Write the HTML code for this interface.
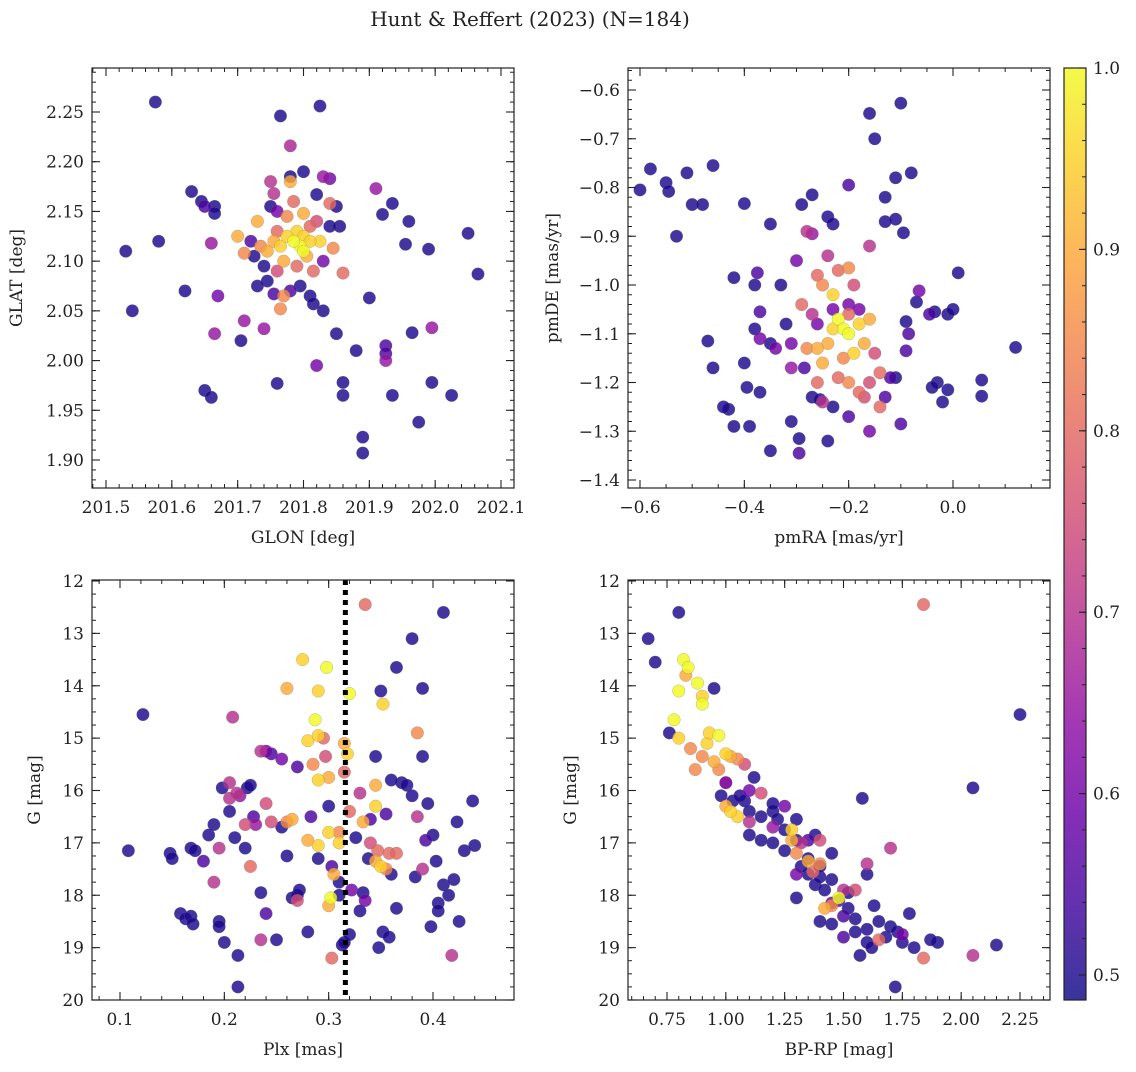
<!DOCTYPE html>
<html><head><meta charset="utf-8"><style>
body{margin:0;background:#fff}
svg text{font-family:"DejaVu Serif","Liberation Serif",serif;fill:#222}
</style></head><body>
<svg id="fig" width="1136" height="1067" viewBox="0 0 1136 1067" xmlns="http://www.w3.org/2000/svg">
<defs>
<linearGradient id="plasma" x1="0" y1="1" x2="0" y2="0">
<stop offset="0" stop-color="#0d0887"/><stop offset="0.1" stop-color="#41049d"/><stop offset="0.2" stop-color="#6a00a8"/><stop offset="0.3" stop-color="#8f0da4"/><stop offset="0.4" stop-color="#b12a90"/><stop offset="0.5" stop-color="#cc4778"/><stop offset="0.6" stop-color="#e16462"/><stop offset="0.7" stop-color="#f2844b"/><stop offset="0.8" stop-color="#fca636"/><stop offset="0.9" stop-color="#fcce25"/><stop offset="1" stop-color="#f0f921"/>
</linearGradient>
</defs>
<text x="530" y="26" font-size="20" text-anchor="middle">Hunt &amp; Reffert (2023) (N=184)</text>
<g id="plots"></g>
</svg>
<script>
// Panel 1: GLON/GLAT
const p1lon=[201.53,201.54,201.575,201.58,201.62,201.63,201.645,201.65,201.65,201.66,201.665,201.665,201.66,201.665,201.67,201.705,201.71,201.72,201.74,201.755,201.76,201.765,201.78,201.80,201.825,201.82,201.83,201.84,201.82,201.83,201.85,201.86,201.86,201.855,201.88,201.89,201.89,201.9,201.91,201.92,201.925,201.925,201.925,201.935,201.935,201.955,201.96,201.965,201.975,201.99,201.995,201.995,202.025,202.05,202.065,
201.7,201.71,201.73,201.735,201.74,201.745,201.75,201.755,201.75,201.76,201.765,201.77,201.775,201.78,201.78,201.785,201.79,201.795,201.8,201.805,201.8,201.81,201.815,201.82,201.825,201.83,201.77,201.765,201.78,201.79,201.76,201.745,201.8,201.785,201.845,201.86,201.85,201.84,201.73,201.76,201.725,201.81,201.795,201.815,201.84,201.755,201.775,201.81];
const p1lat=[2.11,2.05,2.26,2.12,2.07,2.17,2.16,2.155,1.97,1.963,2.155,2.148,2.118,2.027,2.065,2.02,2.04,2.12,2.032,2.067,1.977,2.246,2.216,2.19,2.256,2.167,2.185,2.183,1.995,2.05,2.027,1.978,1.965,2.135,2.01,1.923,1.907,2.063,2.173,2.147,2.015,2.007,2.0,2.158,1.965,2.117,2.14,2.028,1.938,2.112,2.033,1.978,1.965,2.128,2.087,
2.125,2.108,2.14,2.115,2.095,2.08,2.18,2.168,2.155,2.13,2.115,2.1,2.145,2.185,2.18,2.16,2.13,2.115,2.125,2.105,2.148,2.135,2.09,2.14,2.12,2.1,2.065,2.052,2.07,2.095,2.09,2.11,2.11,2.12,2.113,2.088,2.155,2.135,2.075,2.15,2.105,2.065,2.075,2.057,2.158,2.12,2.125,2.12];
const p1prob=[.5,.5,.5,.5,.5,.5,.5,.55,.5,.5,.5,.5,.65,.65,.6,.5,.65,.55,.65,.55,.5,.5,.68,.5,.5,.5,.65,.6,.6,.5,.5,.5,.5,.5,.5,.5,.5,.5,.65,.5,.55,.55,.65,.5,.5,.5,.5,.5,.5,.5,.65,.5,.5,.5,.5,
.9,.85,.9,.85,.5,.5,.7,.7,.5,.8,.95,.9,.85,.5,.9,.8,.95,1,.95,.9,.9,.8,.8,.75,.95,.6,.85,.85,.55,.8,.75,.9,1,1,.85,.8,.5,.5,.5,.6,.5,.5,.5,.5,.8,.9,.95,.95];
// Panel 2: pmRA/pmDE
const p2ra=[-0.6,-0.58,-0.55,-0.545,-0.53,-0.51,-0.5,-0.48,-0.46,-0.4,-0.35,-0.29,-0.27,-0.24,-0.23,-0.2,-0.16,-0.15,-0.13,-0.13,-0.1,-0.11,-0.08,-0.11,-0.095,0.01,0.12,0.055,0.055,-0.47,-0.46,-0.42,-0.42,-0.43,-0.44,-0.4,-0.395,-0.39,-0.375,-0.37,-0.35,-0.31,-0.295,-0.295,-0.285,-0.27,-0.255,-0.24,-0.23,-0.2,-0.16,-0.1,-0.09,-0.085,-0.09,-0.07,-0.065,-0.045,-0.035,-0.03,-0.04,-0.02,-0.01,0.0,-0.01,-0.12,-0.11,
-0.37,-0.38,-0.37,-0.35,-0.34,-0.32,-0.31,-0.38,-0.3,-0.33,-0.28,-0.27,-0.26,-0.25,-0.24,-0.22,-0.16,-0.2,-0.19,-0.2,-0.2,-0.23,-0.22,-0.21,-0.2,-0.18,-0.17,-0.23,-0.24,-0.26,-0.28,-0.25,-0.22,-0.2,-0.18,-0.16,-0.15,-0.14,-0.26,-0.29,-0.27,-0.18,-0.16,-0.19,-0.21,-0.23,-0.14,-0.26,-0.31,-0.13,-0.17,-0.25];
const p2de=[-0.805,-0.762,-0.79,-0.808,-0.9,-0.77,-0.835,-0.835,-0.755,-0.833,-0.875,-0.835,-0.815,-0.86,-0.875,-0.795,-0.648,-0.7,-0.82,-0.87,-0.627,-0.78,-0.77,-0.865,-0.893,-0.975,-1.128,-1.195,-1.228,-1.115,-1.17,-0.985,-1.29,-1.255,-1.25,-1.16,-1.21,-1.29,-0.975,-1.22,-1.34,-1.28,-1.315,-1.345,-1.17,-1.23,-1.235,-1.32,-1.25,-1.27,-1.3,-1.285,-1.135,-1.1,-1.075,-1.035,-1.012,-1.06,-1.055,-1.2,-1.21,-1.24,-1.06,-1.05,-1.215,-1.19,-1.19,
-1.055,-1.09,-1.11,-1.12,-1.13,-1.08,-1.17,-1.0,-0.95,-1.0,-0.89,-0.895,-0.98,-1.0,-0.94,-0.97,-0.92,-0.965,-1.0,-1.04,-1.06,-1.02,-1.07,-1.09,-1.1,-1.08,-1.12,-1.09,-1.12,-1.13,-1.13,-1.16,-1.19,-1.2,-1.22,-1.2,-1.14,-1.25,-1.2,-1.04,-1.06,-1.05,-1.07,-1.14,-1.15,-1.05,-1.18,-1.08,-1.12,-1.23,-1.23,-1.24];
const p2prob=[.5,.5,.5,.5,.5,.5,.5,.5,.5,.5,.5,.5,.5,.5,.5,.55,.5,.5,.5,.5,.5,.5,.5,.5,.5,.5,.5,.5,.5,.5,.5,.5,.5,.5,.5,.5,.5,.5,.55,.5,.5,.5,.5,.55,.55,.5,.5,.5,.5,.55,.6,.55,.55,.55,.5,.5,.6,.55,.5,.5,.5,.5,.5,.5,.5,.55,.5,
.55,.5,.6,.5,.6,.5,.65,.5,.6,.5,.7,.65,.8,.85,.7,.8,.7,.85,.75,.6,.8,.95,1,1,1,.95,.9,.95,.9,.9,.85,.9,.8,.85,.8,.75,.75,.8,.8,.8,.7,.6,.9,.95,.85,.6,.8,.6,.6,.55,.75,.7];
// Panel 3: Plx/G
const p3plx=[0.108,0.122,0.148,0.15,0.158,0.163,0.168,0.17,0.168,0.172,0.18,0.185,0.19,0.195,0.195,0.198,0.2,0.205,0.21,0.213,0.213,0.22,0.222,0.225,0.228,0.235,0.24,0.245,0.25,0.255,0.26,0.265,0.27,0.27,0.272,0.28,0.283,0.29,0.3,0.303,0.31,0.31,0.313,0.315,0.32,0.326,0.33,0.333,0.338,0.34,0.345,0.348,0.352,0.358,0.36,0.365,0.365,0.37,0.375,0.38,0.38,0.383,0.39,0.39,0.393,0.395,0.398,0.4,0.403,0.405,0.41,0.41,0.415,0.42,0.423,0.425,0.43,0.438,0.44,0.36,0.35,0.355,0.405,
0.19,0.195,0.205,0.205,0.208,0.212,0.215,0.22,0.225,0.23,0.235,0.235,0.24,0.24,0.245,0.26,0.265,0.27,0.275,0.28,0.285,0.287,0.29,0.29,0.29,0.295,0.297,0.298,0.3,0.3,0.3,0.302,0.303,0.305,0.31,0.31,0.315,0.315,0.318,0.32,0.32,0.322,0.33,0.333,0.335,0.34,0.345,0.345,0.347,0.352,0.355,0.358,0.365,0.385,0.385,0.39,0.418,0.28,0.29,0.26,0.345,0.35,0.335,0.255];
const p3g=[17.15,14.55,17.2,17.3,18.35,18.45,18.4,18.55,17.1,17.15,17.35,16.85,16.65,18.5,18.6,15.95,18.9,16.4,16.9,19.15,19.75,17.1,15.95,15.9,16.5,17.95,18.35,15.3,18.85,16.7,17.25,18.05,15.55,18.0,17.9,18.7,16.5,17.3,16.3,17.45,18.0,17.75,18.95,18.9,18.75,16.9,18.3,17.95,17.3,16.55,15.35,19.0,18.7,18.8,17.6,13.65,18.25,15.85,15.9,13.1,16.1,17.65,14.05,15.35,16.95,16.25,18.6,16.85,17.35,18.15,12.6,17.8,18.0,17.7,16.6,18.5,17.15,16.2,17.05,15.8,14.1,16.45,18.3,
17.75,17.1,15.85,16.15,14.6,16.05,16.1,16.65,17.45,16.65,15.25,18.85,16.25,15.25,16.6,14.05,16.55,18.1,13.5,15.05,15.5,14.65,14.95,14.1,15.8,15.0,15.35,13.65,15.75,16.8,18.2,18.05,19.2,17.6,16.8,17.0,15.1,15.65,15.3,14.15,16.4,17.9,16.05,16.6,12.45,17.0,15.9,16.3,17.15,14.35,17.5,17.2,17.2,14.9,16.5,17.5,19.15,16.95,17.05,16.6,17.35,17.45,18.1,15.4];
const p3prob=[.5,.5,.5,.5,.5,.5,.5,.5,.5,.5,.55,.5,.5,.5,.5,.5,.5,.5,.5,.5,.5,.5,.5,.5,.55,.5,.55,.55,.5,.5,.5,.5,.55,.5,.5,.5,.55,.5,.5,.55,.5,.5,.5,.5,.5,.5,.5,.5,.5,.55,.5,.5,.5,.5,.5,.5,.5,.5,.5,.5,.5,.5,.5,.5,.55,.5,.5,.5,.5,.5,.5,.5,.5,.5,.5,.5,.5,.5,.5,.5,.5,.55,.5,
.7,.7,.7,.7,.7,.7,.65,.75,.8,.65,.7,.7,.75,.6,.75,.9,.9,.75,.95,.95,.85,1,.95,.95,.95,.8,.75,1,.9,.95,.9,1,.8,.9,.85,.95,.9,.8,.95,1,.8,.6,.7,.9,.8,.75,.9,.95,.8,.95,.85,.8,.8,.85,.7,.7,.7,.9,.95,.85,.9,.95,.6,.6];
// Panel 4: BP-RP/G
const p4c=[0.67,0.7,0.8,0.76,0.95,1.72,2.05,2.25,2.15,1.9,1.87,1.78,1.73,1.68,1.65,1.6,1.6,1.58,1.57,1.5,1.45,1.4,1.38,1.3,1.25,1.2,1.15,1.1,1.08,1.12,1.0,0.98,1.03,1.06,1.2,1.25,1.3,1.35,1.4,1.42,1.48,1.52,1.55,1.6,1.63,1.7,1.52,1.45,1.4,1.35,1.3,1.2,1.15,1.35,1.5,1.55,1.75,1.62,1.8,1.45,1.38,1.22,1.1,1.32,
0.82,0.84,0.83,0.88,0.9,0.9,0.78,0.8,0.8,0.85,0.87,0.9,0.92,0.93,0.97,0.95,0.97,1.0,1.02,1.05,1.08,1.0,1.05,1.1,1.15,1.2,1.28,1.28,1.3,1.32,1.35,1.37,1.4,1.42,1.45,1.48,1.5,1.6,1.65,1.7,1.75,1.84,1.84,2.05,1.4,1.3,1.1,1.45,1.55,1.25,1.0,1.02];
const p4g=[13.1,13.55,12.6,14.9,14.05,19.75,15.95,14.55,18.95,18.9,18.85,18.35,18.7,18.8,18.5,18.9,17.6,16.15,19.15,18.8,18.55,18.5,17.8,18.05,17.15,17.0,16.95,16.85,16.2,15.75,15.85,16.1,16.2,16.1,16.4,16.75,16.95,17.3,17.65,17.9,18.1,18.25,18.45,18.65,18.2,18.6,17.95,17.7,17.45,16.95,16.55,16.25,16.5,17.6,18.4,18.7,18.9,19.0,19.0,17.2,16.85,16.55,16.4,17.45,
13.5,13.65,13.8,13.95,14.2,14.35,14.65,14.1,15.0,15.2,15.6,15.35,15.1,14.9,14.95,15.45,15.6,15.3,15.35,15.4,15.5,16.3,16.5,16.6,16.05,16.7,16.75,16.95,17.2,17.0,17.35,17.55,17.4,18.25,18.2,18.05,17.9,17.4,18.85,17.1,18.75,12.45,19.2,19.15,16.95,17.6,16.0,18.15,17.9,16.3,15.85,16.4];
const p4prob=[.5,.5,.5,.5,.5,.5,.5,.5,.5,.5,.5,.5,.5,.5,.5,.5,.5,.5,.5,.55,.5,.5,.5,.5,.5,.5,.5,.5,.5,.5,.55,.5,.5,.5,.5,.5,.5,.5,.5,.5,.55,.5,.5,.5,.5,.5,.5,.5,.5,.55,.5,.5,.5,.5,.55,.5,.5,.5,.5,.5,.5,.5,.5,.5,
1,1,.9,1,.95,1,1,1,.95,.85,.85,.85,.95,.95,1,.9,.85,.95,.9,.85,.75,.9,.95,.7,.75,.65,.95,.9,.85,.7,.9,.8,.85,.9,.85,1,.7,.7,.8,.7,.6,.8,.8,.7,.75,.6,.6,.6,.75,.6,.65,.95];
// tick labels
const t1x=[201.5,201.6,201.7,201.8,201.9,202.0,202.1], t1y=[1.90,1.95,2.00,2.05,2.10,2.15,2.20,2.25];
const t2x=[-0.6,-0.4,-0.2,0.0], t2y=[-1.4,-1.3,-1.2,-1.1,-1.0,-0.9,-0.8,-0.7,-0.6];
const t3x=[0.1,0.2,0.3,0.4], t3y=[12,13,14,15,16,17,18,19,20];
const t4x=[0.75,1.00,1.25,1.50,1.75,2.00,2.25], t4y=[12,13,14,15,16,17,18,19,20];
const cbTicks=[0.5,0.6,0.7,0.8,0.9,1.0];
const plxLine=[0.316];

const NS='http://www.w3.org/2000/svg';
const root=document.getElementById('plots');
function mk(tag,at,parent){const e=document.createElementNS(NS,tag);for(const k in at)e.setAttribute(k,at[k]);(parent||root).appendChild(e);return e;}
const stops=[[0,[13,8,135]],[.1,[65,4,157]],[.2,[106,0,168]],[.3,[143,13,164]],[.4,[177,42,144]],[.5,[204,71,120]],[.6,[225,100,98]],[.7,[242,132,75]],[.8,[252,166,54]],[.9,[252,206,37]],[1,[240,249,33]]];
const vmin=0.486,vmax=1.0;
function cmap(v){let t=Math.max(0,Math.min(1,(v-vmin)/(vmax-vmin)));for(let i=1;i<stops.length;i++){if(t<=stops[i][0]){const a=stops[i-1],b=stops[i],f=(t-a[0])/(b[0]-a[0]);return 'rgb('+a[1].map((c,j)=>Math.round(c+(b[1][j]-c)*f)).join(',')+')';}}return 'rgb(240,249,33)';}
function lin(d0,d1,r0,r1){return v=>r0+(v-d0)*(r1-r0)/(d1-d0);}
function fmt(v,dec){return (v<0?'\u2212':'')+Math.abs(v).toFixed(dec);}

function panel(o){
  const g=mk('g',{});
  
  
  const X=lin(o.xd[0],o.xd[1],o.xr[0],o.xr[1]), Y=lin(o.yd[0],o.yd[1],o.yr[0],o.yr[1]);
  const L=o.box[0],T=o.box[1],R=o.box[2],B=o.box[3];
  const inv=v=>o.xd[0]+(v-o.xr[0])*(o.xd[1]-o.xd[0])/(o.xr[1]-o.xr[0]);
  const invy=v=>o.yd[0]+(v-o.yr[0])*(o.yd[1]-o.yd[0])/(o.yr[1]-o.yr[0]);
  const pts=mk('g',{},g);
  
  
  const idx=o.xs.map((_,i)=>i).sort((a,b)=>o.ps[a]-o.ps[b]);
  idx.forEach(i=>{const c=mk('circle',{cx:X(o.xs[i]),cy:Y(o.ys[i]),r:6.3,fill:cmap(o.ps[i]),'fill-opacity':0.82,stroke:'#777','stroke-width':0.4,'stroke-opacity':0.6},pts);
    
    });
  if(o.vline){o.vline.forEach(v=>{const l=mk('line',{x1:X(v),x2:X(v),y1:T,y2:B,stroke:'#000','stroke-width':5,'stroke-dasharray':'5 5'},g);
    
    });}
  const f=mk('rect',{x:L,y:T,width:R-L,height:B-T,fill:'none',stroke:'#222','stroke-width':1.2},g);
  
  
  const xs0=inv(L),xs1=inv(R);
  for(let k=Math.ceil(Math.min(xs0,xs1)/o.xm-1e-6);k*o.xm<=Math.max(xs0,xs1)+1e-9;k++){const px=X(k*o.xm);if(px<L||px>R)continue;
    mk('line',{x1:px,x2:px,y1:B,y2:B-4,stroke:'#222','stroke-width':1},g);mk('line',{x1:px,x2:px,y1:T,y2:T+4,stroke:'#222','stroke-width':1},g);}
  const ys0=invy(B),ys1=invy(T);
  for(let k=Math.ceil(Math.min(ys0,ys1)/o.ym-1e-6);k*o.ym<=Math.max(ys0,ys1)+1e-9;k++){const py=Y(k*o.ym);if(py<T||py>B)continue;
    mk('line',{x1:L,x2:L+4,y1:py,y2:py,stroke:'#222','stroke-width':1},g);mk('line',{x1:R,x2:R-4,y1:py,y2:py,stroke:'#222','stroke-width':1},g);}
  o.tx.forEach(v=>{const px=X(v);mk('line',{x1:px,x2:px,y1:B,y2:B-8,stroke:'#222','stroke-width':1.1},g);mk('line',{x1:px,x2:px,y1:T,y2:T+8,stroke:'#222','stroke-width':1.1},g);
    const t=mk('text',{x:px,y:B+25,'font-size':17,'text-anchor':'middle'},g);t.textContent=fmt(v,o.xdec);
    
    });
  o.ty.forEach(v=>{const py=Y(v);if(py<T-1||py>B+1)return;mk('line',{x1:L,x2:L+8,y1:py,y2:py,stroke:'#222','stroke-width':1.1},g);mk('line',{x1:R,x2:R-8,y1:py,y2:py,stroke:'#222','stroke-width':1.1},g);
    const t=mk('text',{x:L-8,y:py+6,'font-size':17,'text-anchor':'end'},g);t.textContent=fmt(v,o.ydec);
    
    });
  const xl=mk('text',{x:(L+R)/2,y:B+55,'font-size':17,'text-anchor':'middle'},g);xl.textContent=o.xl;
  
  
  const yl=mk('text',{x:0,y:0,'font-size':17,'text-anchor':'middle',transform:'translate('+o.ylx+','+((T+B)/2)+') rotate(-90)'},g);yl.textContent=o.yl;
  
  
}
panel({name:'glon-glat-panel',box:[92,68,514,488],xd:[201.5,202.1],xr:[106,501],yd:[2.25,1.90],yr:[112,460],xs:p1lon,ys:p1lat,ps:p1prob,tx:t1x,ty:t1y,xm:0.02,ym:0.01,xdec:1,ydec:2,xl:'GLON [deg]',yl:'GLAT [deg]',ylx:22});
panel({name:'proper-motion-panel',box:[628,68,1050,488],xd:[-0.6,0.0],xr:[640,953],yd:[-0.6,-1.4],yr:[90,480],xs:p2ra,ys:p2de,ps:p2prob,tx:t2x,ty:t2y,xm:0.05,ym:0.02,xdec:1,ydec:1,xl:'pmRA [mas/yr]',yl:'pmDE [mas/yr]',ylx:558});
panel({name:'parallax-magnitude-panel',box:[92,580,514,1000],xd:[0.1,0.4],xr:[120,433],yd:[12,20],yr:[581,1000],xs:p3plx,ys:p3g,ps:p3prob,tx:t3x,ty:t3y,xm:0.02,ym:0.25,xdec:1,ydec:0,xl:'Plx [mas]',yl:'G [mag]',ylx:40,vline:plxLine});
panel({name:'color-magnitude-panel',box:[628,580,1050,1000],xd:[0.75,2.25],xr:[667,1020],yd:[12,20],yr:[581,1000],xs:p4c,ys:p4g,ps:p4prob,tx:t4x,ty:t4y,xm:0.05,ym:0.25,xdec:2,ydec:0,xl:'BP-RP [mag]',yl:'G [mag]',ylx:576});
const cb=mk('g',{});


const cbY=lin(0.5,1.0,975,68);
const cr=mk('rect',{x:1064,y:68,width:22,height:932,fill:'url(#plasma)','fill-opacity':0.82,stroke:'#222','stroke-width':1.2},cb);


for(let v=0.5;v<=1.0001;v+=0.02){const py=cbY(v);mk('line',{x1:1086,x2:1082,y1:py,y2:py,stroke:'#222','stroke-width':1},cb);}
cbTicks.forEach(v=>{const py=cbY(v);mk('line',{x1:1086,x2:1079,y1:py,y2:py,stroke:'#222','stroke-width':1.1},cb);
  const t=mk('text',{x:1093,y:py+6,'font-size':17},cb);t.textContent=v.toFixed(1);
  
  });
</script>
</body></html>
